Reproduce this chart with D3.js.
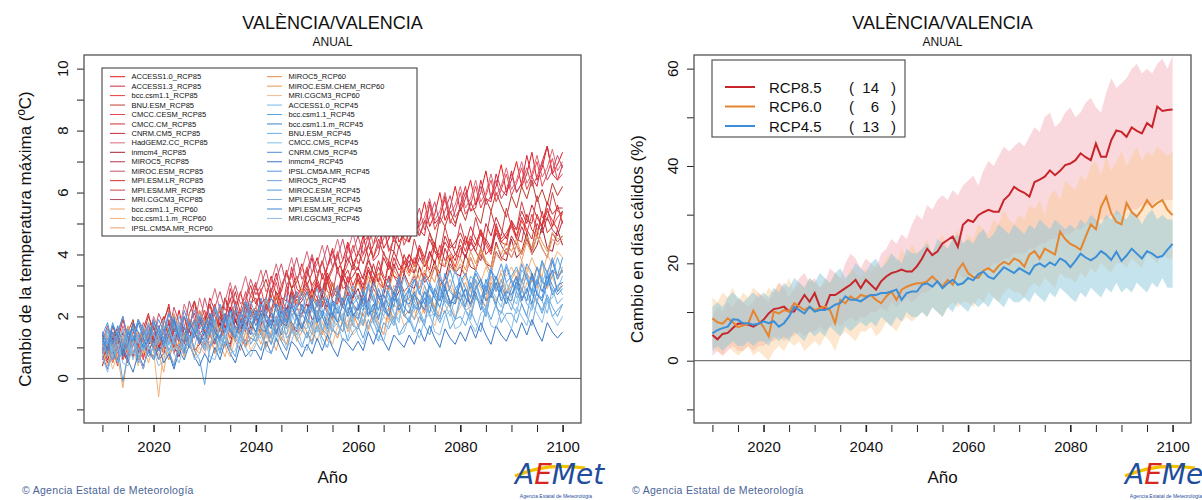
<!DOCTYPE html>
<html><head><meta charset="utf-8">
<script src="https://cdn.jsdelivr.net/npm/d3@7"></script>
<style>
body{margin:0;background:#fff;}
svg{display:block;font-family:"Liberation Sans",Arial,sans-serif;}
</style>
</head><body>
<svg id="c" width="1202" height="500"></svg>
<script>
// ---------------- DATA ----------------
const years = d3.range(2010, 2101);
const xTickValues = d3.range(2010, 2101, 5);
const xTickLabels = [2020, 2040, 2060, 2080, 2100];
const leftYTicks = d3.range(-1, 11, 1);
const leftYLabels = [0, 2, 4, 6, 8, 10];
const rightYTicks = d3.range(-10, 61, 10);
const rightYLabels = [0, 20, 40, 60];

const modelsRcp85 = ["ACCESS1.0_RCP85","ACCESS1.3_RCP85","bcc.csm1.1_RCP85","BNU.ESM_RCP85","CMCC.CESM_RCP85","CMCC.CM_RCP85","CNRM.CM5_RCP85","HadGEM2.CC_RCP85","inmcm4_RCP85","MIROC5_RCP85","MIROC.ESM_RCP85","MPI.ESM.LR_RCP85","MPI.ESM.MR_RCP85","MRI.CGCM3_RCP85"];
const modelsRcp60 = ["bcc.csm1.1_RCP60","bcc.csm1.1.m_RCP60","IPSL.CM5A.MR_RCP60","MIROC5_RCP60","MIROC.ESM.CHEM_RCP60","MRI.CGCM3_RCP60"];
const modelsRcp45 = ["ACCESS1.0_RCP45","bcc.csm1.1_RCP45","bcc.csm1.1.m_RCP45","BNU.ESM_RCP45","CMCC.CMS_RCP45","CNRM.CM5_RCP45","inmcm4_RCP45","IPSL.CM5A.MR_RCP45","MIROC5_RCP45","MIROC.ESM_RCP45","MPI.ESM.LR_RCP45","MPI.ESM.MR_RCP45","MRI.CGCM3_RCP45"];

const colorsRcp85 = ["#e41a1c","#d7263d","#ef3b3b","#c0392b","#e8474f","#d62f2f","#cc2936","#d9687a","#a61e2e","#b83245","#c9506a","#e03030","#d04048","#b54a5a"];
const colorsRcp60 = ["#f0a868","#f4b27a","#eba070","#e8894a","#e9964f","#f3b98a"];
const colorsRcp45 = ["#7ab8e6","#5aa3e3","#3f7fd0","#6aaee8","#84c0e8","#4b8ed8","#3a76c4","#5599e0","#68a6dc","#4e97e3","#7ab0de","#3d86d6","#8bbde8"];

const tmaxRcp85 = [
[1.1,0.7,1.5,1.3,0.8,1.2,1.8,1.0,1.4,1.7, 1.2,1.6,2.0,1.3,1.5,2.2,1.4,1.8,2.1,1.6, 1.9,2.4,1.7,2.0,2.6,1.9,2.2,2.8,2.1,2.3, 3.0,2.4,2.6,3.3,2.7,2.8,3.5,2.9,3.1,3.7, 3.0,3.4,3.9,3.2,3.6,4.2,3.5,3.8,4.4,3.7, 4.0,4.6,3.9,4.3,5.0,4.2,4.5,5.2,4.4,4.7, 5.4,4.7,5.0,5.7,4.9,5.3,6.0,5.1,5.5,6.2, 5.4,5.8,6.4,5.6,6.0,6.7,5.8,6.2,6.9,6.0, 6.4,7.0,6.2,6.6,7.3,6.4,6.8,7.5,6.6,6.9, 7.3],
[1.5,0.9,0.6,1.2,1.9,1.3,0.8,0.7,1.6,2.1, 1.3,0.9,1.8,2.4,1.2,1.0,1.6,1.5,2.5,1.4, 1.7,2.6,2.2,1.5,1.9,2.9,2.3,1.8,2.0,2.7, 3.1,2.2,2.0,2.8,3.4,2.6,2.5,3.6,2.9,2.7, 3.3,3.9,3.0,2.8,3.6,4.1,3.4,3.2,4.3,3.7, 3.5,4.4,4.6,3.8,4.0,4.9,4.2,4.1,5.1,4.5, 4.4,5.4,4.8,4.6,5.7,5.0,5.2,5.9,5.1,4.9, 5.6,6.2,5.4,5.5,6.4,5.8,5.7,6.6,6.1,5.9, 6.7,6.0,6.3,7.2,6.5,6.2,7.0,7.5,6.6,6.4, 6.9],
[0.6,1.1,0.9,0.4,1.3,1.0,0.7,1.5,1.2,0.8, 1.3,1.6,1.0,1.4,0.8,1.7,1.3,1.1,1.9,1.4, 1.2,1.8,1.5,2.0,1.3,1.7,2.2,1.6,1.9,1.4, 2.1,1.8,2.4,2.0,1.7,2.6,2.2,2.8,2.3,2.0, 2.5,2.9,2.3,2.7,3.1,2.6,3.0,2.4,3.3,2.8, 3.2,2.7,3.5,3.0,3.4,2.9,3.7,3.3,3.0,3.8, 3.4,3.9,3.6,3.2,4.1,3.7,4.3,3.8,4.0,3.6, 4.2,3.9,4.5,4.1,4.7,4.3,4.0,4.8,4.4,4.6, 4.9,4.5,5.1,4.7,5.3,4.8,5.0,5.5,4.9,5.2, 5.4],
[1.4,0.9,1.7,1.2,0.8,1.5,1.9,1.1,1.4,2.0, 1.6,1.2,1.9,2.3,1.5,1.8,1.3,2.1,2.5,1.9, 1.7,2.4,2.0,1.6,2.6,2.2,2.8,2.1,2.5,3.0, 2.4,2.8,3.2,2.6,2.3,3.0,3.4,2.9,3.3,2.7, 3.5,3.0,3.3,3.8,3.2,3.6,4.0,3.4,3.9,3.5, 4.1,3.7,4.3,3.9,4.5,4.0,3.8,4.6,4.2,4.8, 4.4,4.9,4.6,5.1,4.7,4.3,5.2,4.9,5.4,5.0, 5.5,5.1,5.7,5.3,5.0,5.8,5.4,6.0,5.6,5.2, 5.9,5.5,6.2,5.8,6.4,5.7,6.1,5.6,6.3,5.9, 6.2],
[0.8,1.2,0.5,1.0,1.5,0.7,1.3,1.1,0.6,1.4, 1.7,1.0,1.2,1.8,1.1,1.5,2.0,1.3,1.6,2.2, 1.5,1.8,2.4,1.7,1.9,2.6,1.8,2.2,2.8,2.0, 2.3,2.9,2.2,2.6,3.1,2.4,2.8,3.4,2.6,3.0, 3.6,2.9,3.2,3.8,3.1,3.5,4.1,3.3,3.7,4.3, 3.7,4.0,4.6,3.9,4.3,4.9,4.1,4.5,5.1,4.3, 4.7,5.3,4.6,5.0,5.6,4.8,5.2,5.8,5.0,5.4, 6.0,5.3,5.6,6.2,5.5,5.9,6.4,5.7,6.1,6.6, 5.9,6.3,6.8,6.1,6.5,7.0,6.2,6.6,7.1,6.4, 6.6],
[0.9,0.5,1.4,1.6,0.7,1.0,1.3,0.6,0.8,1.5, 1.7,1.0,0.9,1.3,1.9,1.1,0.8,1.6,1.8,1.2, 1.1,2.0,1.7,1.3,1.5,2.3,1.9,1.4,2.2,1.6, 1.9,2.5,1.8,2.1,2.7,2.0,1.7,2.4,2.8,2.2, 2.1,2.9,2.6,2.3,3.2,2.5,2.4,3.3,2.7,2.6, 3.4,2.8,3.0,3.7,3.1,2.9,3.8,3.3,3.2,4.0, 3.5,3.4,4.2,3.6,3.9,4.4,3.7,3.6,4.5,4.0, 3.9,4.6,4.1,4.3,4.8,4.0,4.2,5.0,4.4,4.3, 5.1,4.5,4.4,5.3,4.8,4.6,5.4,4.7,4.9,5.6, 5.0],
[0.9,1.4,1.0,0.6,1.5,1.1,1.3,0.8,1.6,1.2, 1.5,1.0,1.3,1.8,1.2,1.6,1.1,1.9,1.4,1.7, 2.0,1.5,1.8,2.2,1.6,2.3,1.9,1.5,2.4,2.0, 2.3,1.9,2.6,2.2,2.8,2.4,2.1,2.9,2.5,2.7, 3.0,2.6,3.2,2.8,3.4,3.0,2.7,3.5,3.1,3.3, 3.6,3.2,3.8,3.4,3.1,3.9,3.5,4.1,3.7,3.4, 4.0,3.7,4.3,3.9,4.5,4.1,3.8,4.6,4.2,4.4, 4.7,4.3,4.9,4.5,4.2,5.0,4.6,5.2,4.8,4.5, 5.1,4.8,5.4,5.0,5.6,5.2,4.9,5.7,5.3,5.5, 5.5],
[1.0,1.6,1.4,0.9,1.7,1.3,1.1,1.9,1.5,1.2, 2.0,1.6,1.4,2.2,1.7,1.5,2.4,1.9,1.7,2.6, 2.0,2.3,2.9,2.2,2.5,3.1,2.4,2.7,3.3,2.6, 2.9,3.5,2.8,3.1,3.7,3.0,3.3,3.9,3.2,3.5, 4.1,3.4,3.7,4.3,3.6,3.9,4.5,3.8,4.1,4.7, 4.0,4.4,5.0,4.3,4.6,5.2,4.5,4.8,5.4,4.7, 5.0,5.6,4.9,5.2,5.8,5.1,5.4,6.0,5.3,5.6, 6.2,5.5,5.8,6.4,5.7,6.0,6.6,5.9,6.2,6.8, 6.1,6.4,7.0,6.3,6.6,7.2,6.5,6.8,7.4,6.7, 7.0],
[0.4,1.0,1.3,0.6,0.9,0.5,1.4,0.8,0.3,1.1, 1.2,0.6,0.8,1.5,1.0,0.7,1.3,1.6,0.9,1.1, 1.5,1.0,1.2,1.8,1.3,1.1,1.9,1.4,1.0,1.7, 2.0,1.4,1.6,2.2,1.5,1.8,2.3,1.7,1.5,2.1, 2.4,1.9,2.0,2.7,2.2,1.9,2.8,2.3,2.1,2.6, 2.9,2.4,2.5,3.2,2.6,2.7,3.3,2.5,2.8,3.4, 3.0,2.9,3.6,3.1,3.3,3.8,3.0,3.2,3.9,3.4, 3.3,4.0,3.6,3.5,4.2,3.7,3.6,4.4,3.9,3.8, 4.5,3.9,4.1,4.7,4.0,4.3,4.9,4.2,4.1,4.8, 4.3],
[1.0,0.6,1.2,0.8,1.5,1.1,0.7,1.3,1.0,1.6, 1.2,0.9,1.6,1.3,1.0,1.7,1.4,1.1,1.8,1.5, 1.2,1.9,1.6,1.3,2.0,1.7,2.2,1.8,1.5,2.3, 2.0,1.7,2.4,2.1,2.6,2.2,1.9,2.7,2.3,2.5, 2.8,2.4,3.0,2.6,2.3,3.1,2.7,3.3,2.9,2.6, 3.2,2.9,3.5,3.1,3.6,3.2,2.9,3.7,3.3,3.5, 3.8,3.4,3.9,3.6,4.1,3.7,3.4,4.2,3.8,4.0, 4.3,3.9,4.4,4.1,3.8,4.5,4.2,4.7,4.3,4.0, 4.6,4.3,4.9,4.5,4.2,5.0,4.7,5.2,4.8,4.6, 5.1],
[1.2,1.7,1.0,1.4,2.0,1.3,1.6,1.1,1.8,1.5, 1.3,2.1,1.7,1.5,2.3,1.8,1.6,2.5,1.9,1.7, 2.6,2.0,2.3,2.8,2.2,2.5,3.0,2.4,2.6,3.2, 2.7,3.0,3.5,2.8,3.2,3.7,3.0,3.3,3.9,3.2, 3.5,4.0,3.4,3.7,4.3,3.6,3.9,4.5,3.8,4.1, 4.6,4.0,4.3,4.9,4.2,4.5,5.1,4.4,4.7,5.3, 4.6,5.0,5.5,4.8,5.2,5.7,5.0,5.4,5.9,5.2, 5.5,6.0,5.4,5.7,6.2,5.6,5.9,6.4,5.8,6.1, 6.6,6.0,6.3,6.8,6.2,6.5,7.0,6.4,6.7,7.2, 6.8],
[0.8,1.2,0.9,1.4,0.6,1.0,1.5,1.2,0.7,1.1, 1.4,1.1,0.8,1.5,1.2,1.7,1.3,1.0,1.6,1.9, 1.5,1.8,1.4,2.0,1.7,1.3,2.1,1.8,2.3,1.9, 2.2,1.9,2.5,2.1,2.7,2.3,2.0,2.8,2.4,2.6, 2.9,2.5,3.1,2.7,3.3,2.8,2.6,3.2,3.5,3.0, 3.4,3.0,3.6,3.2,3.8,3.3,3.1,3.9,3.5,3.7, 4.0,3.6,4.2,3.8,3.5,4.3,3.9,4.4,4.1,3.8, 4.5,4.1,4.6,4.3,4.8,4.4,4.1,4.9,4.5,4.7, 5.0,4.6,5.2,4.8,4.5,5.3,4.9,5.4,5.1,4.8, 5.4],
[1.4,1.0,0.7,1.5,1.2,0.9,1.7,1.1,0.8,1.3, 1.6,1.3,1.0,1.9,1.4,1.2,2.0,1.5,1.3,1.8, 2.2,1.6,1.4,2.3,1.8,1.7,2.5,1.9,1.6,2.4, 2.6,2.0,2.2,2.9,2.3,2.1,3.0,2.4,2.2,2.8, 3.1,2.6,2.5,3.4,2.8,2.7,3.6,2.9,3.0,3.7, 3.2,3.3,3.9,3.4,3.1,4.1,3.6,3.5,4.3,3.7, 3.6,4.5,3.9,3.8,4.7,4.1,4.0,4.9,4.3,4.2, 5.0,4.4,4.3,5.2,4.6,4.5,5.4,4.8,4.6,5.5, 4.9,4.8,5.7,5.1,5.0,5.9,5.2,5.1,6.0,5.4, 5.3],
[0.6,1.0,0.7,1.2,0.9,0.5,1.1,0.8,1.3,0.9, 0.7,1.2,0.9,1.4,1.0,0.8,1.3,1.0,1.5,1.2, 0.9,1.4,1.1,1.6,1.3,1.0,1.7,1.4,1.2,1.8, 1.5,1.9,1.6,1.3,2.0,1.7,2.2,1.8,1.5,2.1, 1.8,2.3,2.0,2.5,2.1,1.9,2.6,2.3,2.8,2.4, 2.2,2.7,2.4,2.9,2.6,2.3,3.0,2.7,3.2,2.8, 3.0,3.3,2.9,3.4,3.1,3.6,3.2,2.9,3.7,3.4, 3.6,3.3,3.9,3.5,4.0,3.7,3.4,4.1,3.8,4.2, 3.9,4.3,4.0,4.5,4.1,4.6,4.2,3.9,4.7,4.4, 4.6]
];

const tmaxRcp60 = [
[0.9,0.4,1.1,0.7,-0.3,0.8,1.2,0.6,1.0,0.5, 1.1,0.8,0.2,1.3,0.9,1.2,0.7,1.4,1.0,0.8, 1.3,0.9,1.5,1.1,0.7,1.4,1.2,1.6,1.0,1.3, 1.5,1.1,1.7,1.3,0.9,1.6,1.4,1.8,1.2,1.5, 1.8,1.4,2.0,1.6,1.2,1.9,1.7,2.1,1.5,1.9, 2.1,1.7,2.3,1.9,2.5,2.0,1.8,2.4,2.2,2.6, 2.3,2.7,2.2,2.8,2.5,2.1,2.9,2.6,3.0,2.4, 2.8,3.1,2.6,3.2,2.9,2.5,3.3,3.0,3.4,2.8, 3.2,3.5,3.0,3.6,3.3,2.9,3.7,3.4,3.8,3.2, 3.6],
[1.3,0.8,1.5,1.0,1.4,0.9,1.6,1.2,0.8,1.5, 0.9,-0.6,1.0,1.5,1.2,0.8,1.4,1.1,1.6,1.3, 1.0,1.5,1.2,1.7,1.3,0.9,1.6,1.4,1.1,1.8, 1.4,1.7,1.3,1.9,1.5,1.2,1.8,1.6,2.0,1.7, 1.9,1.6,2.2,1.8,1.5,2.1,1.9,2.4,2.0,1.7, 2.3,2.0,2.5,2.1,2.7,2.3,1.9,2.6,2.4,2.8, 2.5,2.9,2.4,3.0,2.6,2.3,3.1,2.8,3.2,2.7, 3.0,3.3,2.8,3.4,3.1,3.6,3.2,2.9,3.5,3.3, 3.6,3.2,3.8,3.4,3.9,3.5,3.3,4.0,3.7,4.1, 3.9],
[1.0,1.4,0.7,1.2,1.6,1.1,0.8,1.5,1.3,1.8, 1.4,1.1,1.7,1.3,1.9,1.5,1.2,1.8,1.4,2.0, 1.6,1.3,1.9,1.5,2.1,1.7,1.4,2.0,1.8,2.2, 1.9,1.5,2.1,1.7,2.3,1.9,1.6,2.2,2.0,2.4, 2.1,2.5,2.0,2.6,2.2,1.9,2.7,2.4,2.9,2.5, 2.7,2.3,2.9,2.5,3.1,2.7,2.4,3.0,2.8,3.3, 3.0,3.4,2.9,3.5,3.1,3.7,3.3,3.0,3.6,3.4, 3.7,3.3,3.9,3.5,4.1,3.7,3.4,4.0,3.8,4.2, 3.9,4.3,3.8,4.4,4.0,4.6,4.2,3.9,4.5,4.3, 4.5],
[0.7,1.1,0.5,0.9,1.3,0.8,1.2,0.6,1.0,1.4, 0.9,1.3,1.0,0.6,1.2,0.9,1.5,1.1,0.7,1.3, 1.1,1.5,0.8,1.4,1.0,1.6,1.2,0.9,1.5,1.3, 1.2,1.6,1.0,1.5,1.9,1.3,1.1,1.7,1.4,1.8, 1.5,1.2,1.8,1.4,2.0,1.6,1.3,1.9,1.7,2.1, 1.7,2.1,1.6,2.2,1.8,1.4,2.3,1.9,2.4,2.0, 2.2,1.9,2.5,2.1,2.7,2.3,2.0,2.6,2.4,2.8, 2.5,2.9,2.4,3.0,2.6,2.3,3.1,2.8,3.2,2.7, 3.0,3.3,2.8,3.4,3.1,3.6,3.2,2.9,3.5,3.3, 3.5],
[1.2,1.6,1.0,1.5,1.1,1.7,1.3,0.9,1.6,1.4, 1.8,1.3,1.9,1.5,2.1,1.6,1.2,1.9,1.7,2.2, 1.8,2.1,1.6,2.3,1.9,1.5,2.2,2.0,2.5,2.1, 2.3,1.9,2.5,2.1,2.7,2.2,1.9,2.6,2.4,2.9, 2.5,2.8,2.3,2.9,2.6,3.1,2.7,2.4,3.0,2.8, 3.1,2.7,3.3,2.9,3.4,3.0,2.8,3.5,3.2,3.6, 3.3,3.7,3.2,3.8,3.4,3.1,3.9,3.6,4.0,3.5, 3.9,3.5,4.1,3.7,4.2,3.8,3.6,4.3,4.0,4.4, 4.1,4.5,4.0,4.6,4.2,4.8,4.4,4.1,4.7,4.5, 4.6],
[0.5,0.9,0.3,0.8,1.1,0.6,0.9,0.4,1.0,0.7, 1.0,0.6,1.2,0.8,0.5,1.1,0.9,1.3,0.7,1.0, 0.8,1.2,0.9,1.4,1.0,0.7,1.3,1.1,1.5,0.9, 1.2,0.9,1.4,1.1,1.6,1.2,0.9,1.5,1.3,1.7, 1.3,1.6,1.2,1.8,1.4,1.1,1.7,1.5,1.9,1.4, 1.6,1.9,1.5,2.0,1.7,1.4,2.1,1.8,2.2,1.7, 1.9,2.2,1.8,2.4,2.0,1.7,2.3,2.1,2.5,2.0, 2.3,2.6,2.1,2.7,2.4,2.0,2.8,2.5,2.9,2.4, 2.7,3.0,2.5,3.1,2.8,2.4,3.2,2.9,3.3,2.8, 3.1]
];

const tmaxRcp45 = [
[1.3,0.7,0.9,1.5,1.1,0.6,1.4,1.2,0.9,1.6, 1.0,1.3,1.7,1.1,0.9,1.6,1.4,1.0,1.8,1.5, 1.2,1.9,1.6,1.1,1.5,2.0,1.3,1.7,2.2,1.5, 1.4,2.1,1.8,1.3,2.0,2.3,1.6,1.9,2.4,1.7, 1.6,2.3,2.0,1.5,2.2,2.5,1.8,2.0,2.6,1.9, 2.4,1.8,2.3,2.7,2.0,2.2,2.8,2.1,1.9,2.6, 2.9,2.2,2.4,2.8,2.3,2.0,2.7,3.0,2.4,2.5, 3.1,2.4,2.6,3.2,2.5,2.3,2.9,3.3,2.6,2.7, 3.2,2.6,2.8,3.4,2.7,2.5,3.1,3.5,2.8,2.9, 3.3],
[0.9,1.3,0.6,1.0,-0.1,0.8,1.2,0.5,1.1,0.7, 1.0,0.6,1.3,0.9,0.4,1.1,0.8,1.4,0.9,0.6, -0.2,1.0,1.3,0.8,1.4,1.0,0.7,1.5,1.1,1.3, 1.2,0.9,1.5,1.1,1.6,1.2,0.9,1.6,1.3,1.0, 1.5,1.1,1.7,1.3,1.0,1.6,1.4,1.8,1.2,1.5, 1.7,1.3,1.9,1.5,1.2,1.8,1.6,2.0,1.4,1.7, 1.9,1.5,2.0,1.7,1.4,2.1,1.8,2.2,1.6,1.9, 2.0,1.7,2.2,1.8,1.5,2.3,1.9,2.4,1.8,2.1, 2.1,1.8,2.4,2.0,1.7,2.5,2.1,2.6,2.0,2.2, 2.4],
[1.4,0.9,1.2,1.7,1.0,1.5,1.1,1.8,1.3,0.9, 1.2,1.6,1.0,1.4,1.9,1.3,1.7,1.1,1.5,2.0, 1.4,1.8,1.2,1.6,2.1,1.5,1.3,1.9,1.6,2.2, 1.7,2.1,1.5,1.9,1.4,2.2,1.8,2.4,1.9,1.6, 2.0,2.4,1.8,2.2,1.7,2.5,2.1,2.6,2.0,2.3, 2.2,2.6,2.0,2.4,1.9,2.7,2.3,2.8,2.2,2.5, 2.4,2.8,2.2,2.6,2.1,2.9,2.5,3.0,2.4,2.7, 2.5,2.9,2.3,2.8,2.2,3.0,2.6,3.1,2.5,2.8, 2.7,3.1,2.5,2.9,2.4,3.2,2.8,3.3,2.7,3.0, 3.1],
[1.1,1.6,0.8,1.3,1.5,0.9,1.7,1.2,1.0,1.8, 1.4,1.2,1.9,1.6,1.1,2.0,1.7,1.3,1.5,2.1, 1.8,1.4,2.2,1.9,1.5,2.0,2.4,1.7,1.9,2.5, 2.0,1.8,2.6,2.2,1.7,2.4,2.7,2.0,2.3,2.8, 2.1,2.5,2.9,2.2,2.0,2.7,3.0,2.3,2.4,3.0, 2.6,2.3,3.1,2.7,2.2,2.9,3.2,2.5,2.6,3.3, 2.8,2.5,3.2,3.0,2.4,2.8,3.4,2.7,2.9,3.5, 3.0,2.6,3.3,3.1,2.6,3.0,3.6,2.8,3.1,3.7, 3.2,2.8,3.5,3.3,2.7,3.2,3.8,3.0,3.3,3.9, 3.4],
[1.0,1.5,0.7,0.9,1.6,1.2,0.6,1.3,1.7,0.8, 1.0,1.6,1.3,0.7,1.4,1.8,1.0,1.1,1.7,1.4, 0.9,1.6,1.9,1.2,1.3,2.0,1.5,1.1,1.8,2.1, 1.4,1.3,2.0,1.7,1.2,1.9,2.2,1.5,1.4,2.1, 1.8,1.4,2.2,2.0,1.5,1.7,2.4,1.9,1.6,2.3, 2.1,1.7,2.5,2.2,1.6,2.0,2.6,2.1,1.8,2.7, 2.3,1.9,2.2,2.8,2.0,2.1,2.9,2.4,2.0,2.6, 2.8,2.2,2.3,3.0,2.5,2.1,2.9,2.6,2.3,3.1, 2.6,2.4,3.2,2.7,2.3,2.8,3.3,2.5,2.6,3.0, 2.7],
[1.2,0.8,1.5,1.0,0.7,1.4,1.6,0.9,1.1,1.5, 1.0,1.7,1.2,1.1,1.8,1.3,0.9,1.6,1.9,1.2, 1.3,1.9,1.5,1.2,2.0,1.6,1.3,2.1,1.7,1.4, 2.2,1.6,1.5,2.1,1.9,1.4,2.3,1.8,1.6,2.4, 1.9,1.7,2.5,2.0,1.6,2.4,2.2,1.8,2.6,2.1, 1.9,2.6,2.3,1.8,2.7,2.2,2.0,2.8,2.4,2.1, 2.9,2.3,2.2,2.8,2.6,2.1,3.0,2.5,2.3,2.9, 2.7,2.3,3.1,2.6,2.4,3.2,2.8,2.4,3.0,2.6, 2.5,3.2,2.9,2.5,3.3,2.7,2.6,3.4,3.0,2.7, 2.9],
[0.7,0.3,0.9,0.5,1.0,0.6,0.2,0.8,0.4,0.9, 0.6,1.0,0.5,0.8,0.3,0.9,0.6,1.1,0.7,0.4, 0.8,0.5,1.0,0.6,1.2,0.8,0.5,1.1,0.7,0.9, 0.9,0.6,1.2,0.8,1.3,0.9,0.6,1.2,1.0,0.7, 1.1,0.8,1.3,0.9,1.4,1.0,0.7,1.3,1.1,0.9, 1.2,0.9,1.5,1.1,1.6,1.2,0.9,1.4,1.2,1.0, 1.4,1.1,1.6,1.2,1.7,1.3,1.0,1.6,1.3,1.1, 1.5,1.2,1.7,1.3,1.8,1.4,1.1,1.7,1.4,1.2, 1.6,1.3,1.8,1.4,1.9,1.5,1.2,1.8,1.5,1.3, 1.5],
[1.5,1.1,1.8,1.3,1.0,1.6,1.2,1.9,1.4,1.7, 1.4,1.9,1.5,2.1,1.6,1.3,2.0,1.7,2.2,1.8, 1.6,2.1,1.8,2.4,1.9,1.5,2.2,2.0,2.5,2.1, 1.9,2.4,2.0,2.6,2.2,1.8,2.5,2.3,2.8,2.2, 2.1,2.6,2.3,2.9,2.4,2.0,2.7,2.5,3.0,2.4, 2.6,2.9,2.4,3.1,2.7,2.3,3.0,2.8,3.3,2.6, 2.9,3.2,2.7,3.3,2.9,2.6,3.2,3.0,3.5,2.9, 3.1,3.4,2.9,3.5,3.2,2.8,3.5,3.2,3.7,3.1, 3.3,3.6,3.1,3.7,3.4,3.0,3.8,3.4,3.9,3.3, 3.9],
[0.8,1.3,1.1,0.5,1.0,1.6,1.2,0.7,1.4,1.1, 0.6,1.2,1.5,0.9,1.3,1.7,0.8,1.0,1.6,1.3, 1.0,1.7,1.4,0.9,1.5,1.9,1.2,1.3,1.8,1.1, 1.4,2.0,1.6,1.1,1.7,2.1,1.3,1.5,2.0,1.6, 1.3,1.9,2.2,1.6,1.4,2.1,1.8,1.5,2.3,1.7, 1.6,2.2,2.4,1.8,1.5,2.3,2.0,1.7,2.5,2.1, 1.8,2.4,2.1,1.7,2.6,2.2,1.9,2.7,2.3,1.9, 2.5,2.2,1.9,2.7,2.4,2.0,2.8,2.3,2.1,2.6, 2.2,2.8,2.4,2.0,2.9,2.5,2.2,2.7,2.3,2.0, 2.4],
[1.4,1.8,1.1,1.5,2.0,1.3,1.2,1.9,1.6,1.1, 1.8,1.5,1.3,2.1,1.6,1.4,2.2,1.7,1.3,2.0, 1.7,1.4,2.3,1.9,1.5,2.2,2.0,1.6,2.5,1.8, 1.9,2.6,2.1,1.7,2.4,2.2,1.8,2.7,2.0,2.1, 2.8,2.2,1.9,2.6,2.5,2.0,2.9,2.3,2.1,2.8, 2.4,2.2,3.0,2.5,2.2,2.9,2.7,2.3,3.2,2.5, 2.6,3.2,2.8,2.4,3.1,2.7,2.5,3.4,2.8,2.6, 3.3,2.9,2.6,3.4,3.0,2.7,3.5,2.9,2.8,3.6, 3.1,2.9,3.7,3.2,2.8,3.6,3.1,3.0,3.8,3.2, 3.5],
[0.7,1.2,1.0,0.5,1.3,1.1,0.8,1.4,0.9,1.2, 1.5,0.9,1.0,1.6,1.2,0.8,1.5,1.3,1.0,1.7, 1.4,1.0,1.8,1.3,1.1,1.9,1.5,1.2,1.7,1.6, 1.2,1.9,1.7,1.3,2.0,1.6,1.4,2.1,1.7,1.5, 2.2,1.6,1.5,2.1,1.9,1.5,2.3,1.8,1.6,2.4, 1.9,1.7,2.5,2.0,1.6,2.3,2.2,1.8,2.6,2.0, 1.9,2.5,2.2,1.8,2.7,2.1,2.0,2.6,2.3,1.9, 2.7,2.2,2.0,2.6,2.4,2.0,2.8,2.3,2.1,2.7, 2.4,2.1,2.9,2.4,2.2,2.8,2.5,2.1,2.9,2.4, 2.6],
[1.3,0.9,1.7,1.4,0.8,1.1,1.8,1.5,1.0,1.2, 1.9,1.4,1.1,1.6,2.0,1.3,1.2,1.8,1.5,1.1, 1.7,2.1,1.5,1.3,1.9,2.2,1.6,1.4,2.0,1.8, 1.5,2.2,1.9,1.6,2.4,1.8,1.7,2.3,2.0,1.6, 2.2,2.5,1.8,2.0,2.6,2.1,1.8,2.4,2.7,2.0, 2.3,2.8,2.1,2.2,2.9,2.4,2.0,2.6,3.0,2.3, 2.1,2.7,2.5,2.2,3.0,2.6,2.3,2.9,2.5,2.4, 3.1,2.6,2.4,2.9,3.2,2.5,2.7,3.3,2.8,2.4, 2.9,3.3,2.6,2.8,3.4,2.7,2.5,3.1,3.5,2.8, 3.0],
[0.7,0.2,0.9,1.1,0.5,0.4,1.2,0.8,0.3,1.0, 0.9,0.4,0.6,1.3,0.8,0.5,1.1,1.2,0.6,0.8, 1.3,0.7,0.6,1.2,1.4,0.8,0.9,1.5,1.0,0.7, 1.1,1.5,0.9,0.8,1.4,1.6,1.0,1.2,1.7,1.1, 0.9,1.5,1.7,1.1,1.0,1.6,1.8,1.2,1.3,1.9, 1.4,1.1,1.7,1.9,1.3,1.2,1.8,2.0,1.4,1.5, 2.0,1.6,1.3,1.9,2.1,1.5,1.4,2.0,2.2,1.6, 1.7,2.2,1.8,1.5,2.1,2.3,1.7,1.6,2.2,1.9, 1.6,2.3,2.0,1.7,2.4,2.1,1.8,2.5,2.0,1.7, 2.0]
];

// right chart: change in warm days (%) — ensemble means and spread bands
const rcp85Mean = [5.3,4.4,5.5,5.7,6.7,7.6,7.7,7.4,7.0,7.6, 8.4,9.7,10.6,10.8,11.1,10.1,10.1,11.8,13.5,12.1, 13.9,11.1,10.8,13.5,13.5,14.2,14.9,15.6,16.6,14.9, 16.6,15.6,14.6,16.3,17.3,18.0,18.3,18.7,18.3,18.3, 19.4,21.0,23.0,21.7,22.4,24.1,24.8,25.5,23.4,27.9, 28.9,28.5,29.9,30.5,31.0,30.6,30.6,33.0,34.0,35.7, 35.0,34.5,33.7,36.7,37.2,37.8,39.1,38.1,39.0,40.2, 40.5,41.2,42.6,41.8,41.2,44.6,41.9,41.9,45.3,47.3, 47.0,46.0,47.9,47.2,46.7,48.8,48.0,52.2,51.3,51.5, 51.6];
const rcp60Mean = [8.7,7.9,7.6,8.7,7.9,6.9,7.2,7.6,10.3,8.3, 6.9,5.0,10.1,9.7,10.4,10.1,11.8,11.1,10.4,11.1, 10.4,10.8,11.1,10.4,7.7,12.5,11.8,13.2,12.5,13.5, 13.2,13.5,12.5,11.8,13.2,14.2,12.5,14.6,15.2,15.6, 15.9,15.9,16.3,17.3,16.3,15.2,16.6,15.6,18.6,20.0, 18.0,17.2,17.0,18.5,19.0,18.2,19.5,20.3,19.8,21.0, 20.5,19.3,21.8,22.5,21.0,23.0,22.4,21.8,26.5,25.0, 24.0,23.5,22.8,25.5,28.0,27.0,31.6,33.7,30.3,28.5, 28.0,32.4,30.5,29.6,31.0,33.0,31.5,32.4,33.0,31.0, 29.9];
const rcp45Mean = [5.6,6.3,6.7,7.0,8.5,8.4,7.7,7.7,7.4,7.6, 8.1,7.7,8.1,7.0,7.7,9.1,11.1,10.4,9.7,11.1, 10.1,10.4,10.4,10.8,11.5,11.8,13.2,12.5,12.5,12.2, 12.9,13.5,13.5,13.9,13.9,14.2,14.6,12.5,13.9,14.2, 14.2,15.6,15.9,15.2,16.3,14.9,15.9,16.6,15.6,15.9, 17.0,16.5,17.8,18.3,17.2,16.8,18.0,19.2,18.6,18.0, 19.0,18.4,17.8,19.5,20.0,19.3,20.2,19.6,21.0,20.4, 19.2,20.5,22.0,21.2,20.6,21.3,22.5,21.8,20.7,22.4, 20.5,21.6,23.0,22.0,21.0,22.5,22.0,21.2,21.5,22.8, 24.0];
const rcp85High = [9,11,10,12,11,13,12,11,12,14, 13,12,14,16,15,13,15,17,18,16, 17,15,16,19,18,17,20,22,21,19, 21,20,19,22,23,25,24,26,25,28, 30,29,32,31,33,34,33,35,34,36, 37,38,36,39,41,40,42,44,43,44, 45,44,46,48,47,50,51,48,49,51, 52,50,51,53,54,52,51,55,58,56, 57,58,60,61,59,60,59,61,62,60, 62.7];
const rcp85Low = [1,2,1,2,3,2,2,3,2,3, 3,4,4,5,4,5,5,6,5,6, 6,7,6,7,8,7,8,9,8,9, 9,10,10,11,10,12,11,12,13,12, 13,14,14,15,16,15,16,17,18,17, 17,18,18,19,19,20,20,21,21,22, 22,22,23,23,24,24,25,25,26,26, 26,27,27,28,28,28,29,29,30,30, 30,31,31,31,32,32,32,33,33,33, 33];
const rcp60High = [13,12,14,13,15,12,14,13,15,14, 13,15,14,16,15,17,14,16,15,17, 16,15,17,16,18,17,16,19,18,17, 19,18,20,19,21,22,20,23,21,24, 22,23,25,22,24,26,23,25,27,24, 26,25,28,27,26,29,28,31,29,28, 30,29,32,31,33,30,34,35,33,37, 36,35,38,37,40,41,38,42,39,41, 43,40,42,44,41,43,42,44,43,42, 43];
const rcp60Low = [3,2,1,3,2,1,2,3,1,2, 1,0,2,3,2,4,3,4,2,3, 4,3,5,4,2,5,6,5,4,6, 6,7,5,6,8,7,6,8,9,8, 9,10,9,11,10,9,11,12,11,12, 12,11,13,12,14,13,12,14,15,14, 14,13,15,16,15,17,16,15,18,17, 17,16,18,17,19,18,20,19,18,20, 20,19,21,20,19,22,21,20,22,21, 21];
const rcp45High = [11,12,11,13,14,13,12,13,14,13, 14,13,15,14,16,15,17,16,15,17, 16,18,17,16,18,19,17,18,20,19, 18,20,21,19,20,22,21,20,23,22, 22,23,24,22,25,24,23,25,26,24, 25,24,26,27,25,26,28,27,26,28, 27,26,28,27,29,28,27,29,28,27, 28,27,29,28,30,29,28,30,29,31, 30,29,31,30,28,30,31,29,30,29, 29];
const rcp45Low = [2,3,2,3,4,3,3,4,3,4, 4,3,5,4,5,4,6,5,4,6, 5,6,5,7,6,5,7,6,7,8, 7,8,7,9,8,7,9,8,10,9, 9,10,9,11,10,9,11,10,12,11, 10,12,11,12,11,13,12,11,13,12, 12,13,12,14,13,12,14,13,15,14, 13,12,14,13,15,14,13,15,14,16, 14,15,14,16,15,14,16,15,17,15, 15];

const scenarioLabels = ["RCP8.5","RCP6.0","RCP4.5"];
const scenarioCounts = [14, 6, 13];
const scenarioLineColors = ["#c8252b","#e5852f","#3b8ed8"];
const scenarioBandColors = ["#f2a5b0","#fbc58a","#8cc8da"];
const scenarioBandOpacity = [0.42, 0.42, 0.5];

// ---------------- DRAWING ----------------
const svg = d3.select("#c");
const W = 497, plotTop = 55, plotBottom = 423;
const offsets = [84, 694];

function frame(x0) {
  const cx = x0 + W / 2;
  svg.append("text").attr("x", cx).attr("y", 29).attr("text-anchor", "middle")
    .attr("font-size", 18).attr("fill", "#111").text("VALÈNCIA/VALENCIA");
  svg.append("text").attr("x", cx).attr("y", 46).attr("text-anchor", "middle")
    .attr("font-size", 12).attr("fill", "#111").text("ANUAL");
  svg.append("text").attr("x", cx).attr("y", 483).attr("text-anchor", "middle")
    .attr("font-size", 17).attr("fill", "#111").text("Año");
  svg.append("text").attr("x", x0 - 62).attr("y", 494).attr("font-size", 10.5)
    .attr("fill", "#4a6496").attr("letter-spacing", 0.3).text("© Agencia Estatal de Meteorología");
  const lg = svg.append("g").attr("transform", `translate(${x0 + 429},0)`);
  lg.append("path").attr("d", "M2,476 C20,468 45,464 72,468")
    .attr("stroke", "#f2c200").attr("stroke-width", 3.2).attr("fill", "none");
  const lt = lg.append("text").attr("x", 2).attr("y", 484).attr("font-size", 28)
    .attr("font-style", "italic").attr("font-family", "DejaVu Sans, sans-serif");
  lt.append("tspan").attr("fill", "#1f4e9c").text("A");
  lt.append("tspan").attr("fill", "#d9251d").text("E");
  lt.append("tspan").attr("fill", "#1f4e9c").text("Met");
  lg.append("text").attr("x", 43).attr("y", 497.5).attr("text-anchor", "middle")
    .attr("font-size", 5).attr("fill", "#1f4e9c").text("Agencia Estatal de Meteorología");
}

function axes(x, y, x0, yTicks, yLabels) {
  const xa = d3.axisBottom(x).tickValues(xTickValues).tickSize(7).tickPadding(9)
    .tickFormat(d => xTickLabels.includes(d) ? d : "");
  const gx = svg.append("g").attr("transform", `translate(0,425)`).call(xa);
  gx.select(".domain").remove();
  gx.selectAll("line").attr("stroke", "#222").attr("stroke-width", d => xTickLabels.includes(d) ? 1.6 : 1);
  gx.selectAll("text").attr("font-size", 15).attr("fill", "#111").attr("font-family", "Liberation Sans, Arial, sans-serif");
  const ya = d3.axisLeft(y).tickValues(yTicks).tickSize(7).tickFormat("");
  const gy = svg.append("g").attr("transform", `translate(${x0},0)`).call(ya);
  gy.select(".domain").remove();
  gy.selectAll("line").attr("stroke", "#222");
  svg.append("g").selectAll("text").data(yLabels).join("text")
    .attr("transform", d => `translate(${x0 - 16},${y(d)}) rotate(-90)`)
    .attr("text-anchor", "middle").attr("font-size", 15).attr("fill", "#111").text(d => d);
  svg.append("line").attr("x1", x0).attr("x2", x0 + W).attr("y1", y(0)).attr("y2", y(0))
    .attr("stroke", "#555").attr("stroke-width", 1);
  svg.append("rect").attr("x", x0).attr("y", plotTop).attr("width", W).attr("height", plotBottom - plotTop)
    .attr("fill", "none").attr("stroke", "#555").attr("stroke-width", 1.3);
}

// ===== LEFT PANEL =====
{
  const x0 = offsets[0];
  const x = d3.scaleLinear().domain([2006.4, 2103.6]).range([x0, x0 + W]);
  const y = d3.scaleLinear().domain([-1.44, 10.44]).range([plotBottom, plotTop]);
  frame(x0);
  svg.append("defs").append("clipPath").attr("id", "clipL").append("rect")
    .attr("x", x0).attr("y", plotTop).attr("width", W).attr("height", plotBottom - plotTop);
  const line = d3.line().x((d, i) => x(years[i])).y(d => y(d));
  const g = svg.append("g").attr("clip-path", "url(#clipL)");
  const groups = [[tmaxRcp85, colorsRcp85], [tmaxRcp60, colorsRcp60], [tmaxRcp45, colorsRcp45]];
  groups.forEach(([series, cols]) => {
    g.append("g").selectAll("path").data(series).join("path")
      .attr("d", line).attr("fill", "none")
      .attr("stroke", (d, i) => cols[i]).attr("stroke-width", 1);
  });
  axes(x, y, x0, leftYTicks, leftYLabels);
  svg.append("text").attr("transform", `translate(31,239) rotate(-90)`).attr("text-anchor", "middle")
    .attr("font-size", 17).attr("fill", "#111").text("Cambio de la temperatura máxima (ºC)");

  const names = modelsRcp85.concat(modelsRcp60, modelsRcp45);
  const cols = colorsRcp85.concat(colorsRcp60, colorsRcp45);
  const lgd = svg.append("g");
  lgd.append("rect").attr("x", 102).attr("y", 68).attr("width", 315).attr("height", 168)
    .attr("fill", "#fff").attr("stroke", "#333").attr("stroke-width", 1);
  names.forEach((n, i) => {
    const col = i < 17 ? 0 : 1;
    const row = i < 17 ? i : i - 17;
    const lx = col === 0 ? 110 : 267;
    const ly = 76.7 + row * 9.45;
    lgd.append("line").attr("x1", lx).attr("x2", lx + 15).attr("y1", ly).attr("y2", ly)
      .attr("stroke", cols[i]).attr("stroke-width", 1);
    lgd.append("text").attr("x", lx + 21.5).attr("y", ly + 2.6).attr("font-size", 7.5)
      .attr("fill", "#111").text(n);
  });
}

// ===== RIGHT PANEL =====
{
  const x0 = offsets[1];
  const x = d3.scaleLinear().domain([2006.4, 2103.6]).range([x0, x0 + W]);
  const y = d3.scaleLinear().domain([-12.8, 62.8]).range([plotBottom, plotTop]);
  frame(x0);
  svg.append("defs").append("clipPath").attr("id", "clipR").append("rect")
    .attr("x", x0).attr("y", plotTop).attr("width", W).attr("height", plotBottom - plotTop);
  const g = svg.append("g").attr("clip-path", "url(#clipR)");
  const bands = [[rcp85Low, rcp85High], [rcp60Low, rcp60High], [rcp45Low, rcp45High]];
  bands.forEach(([lo, hi], k) => {
    const area = d3.area().x((d, i) => x(years[i])).y0((d, i) => y(lo[i])).y1(d => y(d));
    g.append("path").datum(hi).attr("d", area)
      .attr("fill", scenarioBandColors[k]).attr("fill-opacity", scenarioBandOpacity[k]);
  });
  const line = d3.line().x((d, i) => x(years[i])).y(d => y(d));
  [rcp85Mean, rcp60Mean, rcp45Mean].forEach((m, k) => {
    g.append("path").datum(m).attr("d", line).attr("fill", "none")
      .attr("stroke", scenarioLineColors[k]).attr("stroke-width", 2);
  });
  axes(x, y, x0, rightYTicks, rightYLabels);
  svg.append("text").attr("transform", `translate(643,239) rotate(-90)`).attr("text-anchor", "middle")
    .attr("font-size", 17).attr("fill", "#111").text("Cambio en días cálidos (%)");

  const lgd = svg.append("g");
  lgd.append("rect").attr("x", 712).attr("y", 60).attr("width", 193).attr("height", 77)
    .attr("fill", "#fff").attr("stroke", "#555").attr("stroke-width", 1.2);
  scenarioLabels.forEach((s, i) => {
    const ly = 87 + i * 19.5;
    lgd.append("line").attr("x1", 725).attr("x2", 755).attr("y1", ly).attr("y2", ly)
      .attr("stroke", scenarioLineColors[i]).attr("stroke-width", 2);
    lgd.append("text").attr("x", 769).attr("y", ly + 5.5).attr("font-size", 15).attr("fill", "#111").text(s);
    lgd.append("text").attr("x", 849).attr("y", ly + 5.5).attr("font-size", 15).attr("fill", "#111").text("(");
    lgd.append("text").attr("x", 879).attr("y", ly + 5.5).attr("font-size", 15).attr("text-anchor", "end").attr("fill", "#111").text(scenarioCounts[i]);
    lgd.append("text").attr("x", 896).attr("y", ly + 5.5).attr("font-size", 15).attr("text-anchor", "end").attr("fill", "#111").text(")");
  });
}
</script>
</body></html>
